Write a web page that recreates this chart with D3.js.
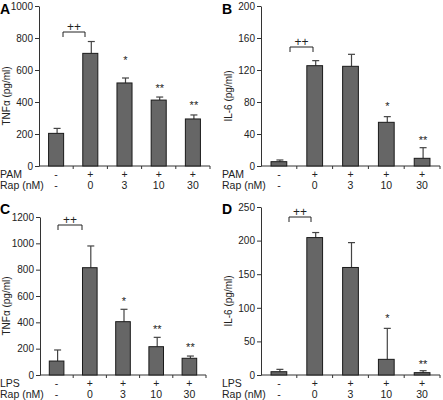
<!DOCTYPE html>
<html>
<head>
<meta charset="utf-8">
<script src="https://cdn.jsdelivr.net/npm/d3@7/dist/d3.min.js"></script>
<style>
  html, body { margin: 0; padding: 0; background: #fff; }
  svg { display: block; font-family: "Liberation Sans", Arial, sans-serif; }
</style>
</head>
<body>
<svg id="chart" width="443" height="400"></svg>
<script>
// ---- data ----
const categories = ["c1", "c2", "c3", "c4", "c5"];
const treatRow = ["-", "+", "+", "+", "+"];
const rapRow = ["-", "0", "3", "10", "30"];

const tnfPamMean = [204, 704, 519, 412, 294];
const tnfPamErr  = [31, 74, 31, 19, 25];
const il6PamMean = [5.4, 125.4, 124.6, 54.6, 9.6];
const il6PamErr  = [2.1, 6.3, 15.0, 7.1, 13.3];
const tnfLpsMean = [106, 815, 405, 215, 127];
const tnfLpsErr  = [84, 165, 94, 71, 17];
const il6LpsMean = [4.9, 204.5, 160, 23.3, 3.5];
const il6LpsErr  = [3.5, 7.5, 37, 46.1, 2.9];

const sigA = ["", "", "*", "**", "**"];
const sigB = ["", "", "", "*", "**"];
const sigC = ["", "", "*", "**", "**"];
const sigD = ["", "", "", "*", "**"];

const ticksA = [0, 200, 400, 600, 800, 1000];
const ticksB = [0, 40, 80, 120, 160, 200];
const ticksC = [0, 200, 400, 600, 800, 1000, 1200];
const ticksD = [0, 50, 100, 150, 200, 250];

// ---- layout ----
const panels = [
  { letter: "A", lx: 0, ly: 14, x0: 39, x1: 210, yTop: 6, yBot: 166, max: 1000, ticks: ticksA,
    mean: tnfPamMean, err: tnfPamErr, sig: sigA, starY: [0, 0, 57, 85, 102],
    title: "TNFα (pg/ml)", titleX: 6, treat: "PAM", brY: 32, brX: [63, 85] },
  { letter: "B", lx: 222, ly: 14, x0: 261, x1: 440, yTop: 6, yBot: 166, max: 200, ticks: ticksB,
    mean: il6PamMean, err: il6PamErr, sig: sigB, starY: [0, 0, 0, 103, 137],
    title: "IL-6 (pg/ml)", titleX: 228, treat: "PAM", brY: 47, brX: [290, 313] },
  { letter: "C", lx: 0, ly: 214, x0: 40, x1: 206, yTop: 217, yBot: 375, max: 1200, ticks: ticksC,
    mean: tnfLpsMean, err: tnfLpsErr, sig: sigC, starY: [0, 0, 298, 326, 344],
    title: "TNFα (pg/ml)", titleX: 6, treat: "LPS", brY: 225, brX: [58, 82] },
  { letter: "D", lx: 222, ly: 214, x0: 261, x1: 440, yTop: 207, yBot: 375, max: 250, ticks: ticksD,
    mean: il6LpsMean, err: il6LpsErr, sig: sigD, starY: [0, 0, 0, 315, 361],
    title: "IL-6 (pg/ml)", titleX: 228, treat: "LPS", brY: 217, brX: [289, 311] }
];

const svg = d3.select("#chart");
const barFill = "#666666";

panels.forEach(p => {
  const g = svg.append("g");
  const x = d3.scaleBand().domain(categories).range([p.x0, p.x1]).paddingInner(0.56).paddingOuter(0.28);
  const y = d3.scaleLinear().domain([0, p.max]).range([p.yBot, p.yTop]);
  const step = x.step();

  // panel letter
  g.append("text").attr("x", p.lx).attr("y", p.ly)
    .attr("font-size", 14).attr("font-weight", "bold").attr("fill", "#000").text(p.letter);

  // y axis
  const yAxis = d3.axisLeft(y).tickValues(p.ticks).tickFormat(d3.format("d"))
    .tickSize(4).tickPadding(2).tickSizeOuter(0);
  const ya = g.append("g").attr("transform", `translate(${p.x0},0)`).call(yAxis);
  ya.selectAll("text").attr("font-size", 10).attr("fill", "#222").attr("font-family", "Liberation Sans, Arial, sans-serif");
  ya.selectAll("line,path").attr("stroke", "#333");

  // x axis line with boundary ticks
  g.append("line").attr("x1", p.x0).attr("x2", p.x1).attr("y1", p.yBot).attr("y2", p.yBot).attr("stroke", "#333");
  const bounds = d3.range(1, categories.length + 1).map(i => x(categories[i - 1]) + x.bandwidth() + step * x.paddingInner() / 2);
  g.selectAll(".xt").data(bounds).join("line")
    .attr("x1", d => d).attr("x2", d => d).attr("y1", p.yBot).attr("y2", p.yBot + 3).attr("stroke", "#333");

  // y title
  g.append("text")
    .attr("transform", `translate(${p.titleX + 4},${(p.yTop + p.yBot) / 2 + 10}) rotate(-90)`)
    .attr("text-anchor", "middle").attr("font-size", 10).attr("fill", "#222").text(p.title);

  // error bars
  const eg = g.append("g");
  categories.forEach((c, i) => {
    const cx = x(c) + x.bandwidth() / 2 + 1;
    eg.append("line").attr("x1", cx).attr("x2", cx).attr("y1", y(p.mean[i])).attr("y2", y(p.mean[i] + p.err[i]))
      .attr("stroke", "#444").attr("stroke-width", 1.2);
    eg.append("line").attr("x1", cx - 3.5).attr("x2", cx + 3.5).attr("y1", y(p.mean[i] + p.err[i])).attr("y2", y(p.mean[i] + p.err[i]))
      .attr("stroke", "#444").attr("stroke-width", 1.2);
  });

  // bars
  g.selectAll(".bar").data(categories).join("rect")
    .attr("x", c => x(c)).attr("width", x.bandwidth())
    .attr("y", (c, i) => y(p.mean[i])).attr("height", (c, i) => p.yBot - y(p.mean[i]))
    .attr("fill", barFill).attr("stroke", "#1a1a1a").attr("stroke-width", 1);

  // significance stars
  categories.forEach((c, i) => {
    if (!p.sig[i]) return;
    g.append("text").attr("x", x(c) + x.bandwidth() / 2 + 1).attr("y", p.starY[i] + 7)
      .attr("text-anchor", "middle").attr("font-size", 11).attr("fill", "#222").text(p.sig[i]);
  });

  // bracket ++
  g.append("path")
    .attr("d", `M${p.brX[0]},${p.brY + 5}V${p.brY}H${p.brX[1]}V${p.brY + 5}`)
    .attr("fill", "none").attr("stroke", "#222").attr("stroke-width", 1);
  g.append("text").attr("x", (p.brX[0] + p.brX[1]) / 2).attr("y", p.brY - 1)
    .attr("text-anchor", "middle").attr("font-size", 12).attr("fill", "#222").text("++");

  // row labels
  g.append("text").attr("x", p.lx).attr("y", p.yBot + 12).attr("font-size", 10.5).attr("fill", "#222").text(p.treat);
  g.append("text").attr("x", p.lx).attr("y", p.yBot + 23).attr("font-size", 10.5).attr("fill", "#222").text("Rap (nM)");
  categories.forEach((c, i) => {
    const cx = x(c) + x.bandwidth() / 2;
    g.append("text").attr("x", cx).attr("y", p.yBot + 12).attr("text-anchor", "middle")
      .attr("font-size", 10.5).attr("fill", "#222").text(treatRow[i]);
    g.append("text").attr("x", cx).attr("y", p.yBot + 23).attr("text-anchor", "middle")
      .attr("font-size", 10.5).attr("fill", "#222").text(rapRow[i]);
  });
});
</script>
</body>
</html>
